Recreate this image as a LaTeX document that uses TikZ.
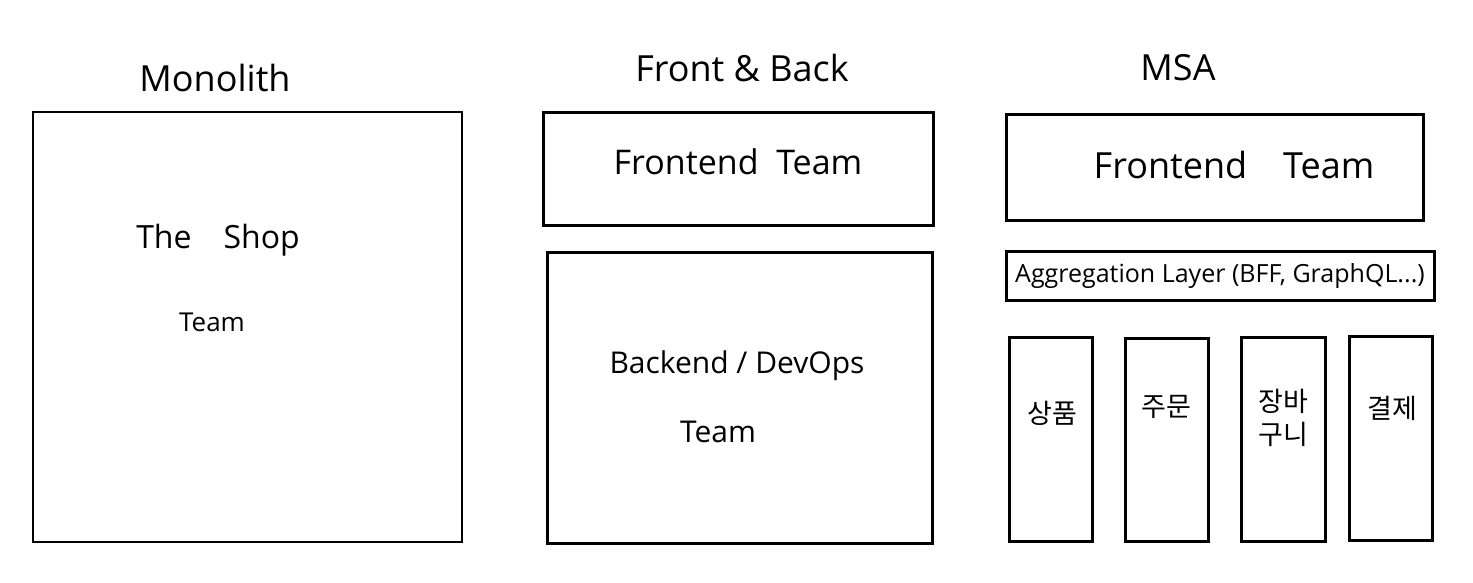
\documentclass[tikz,border=0pt]{standalone}
\usepackage{fontspec}
\setmainfont{Open Sans}
\newfontfamily\krfont{Noto Sans CJK KR}
\begin{document}
\begin{tikzpicture}[x=1pt,y=-1pt,
  box/.style={draw=black,line width=3pt},
  ttl/.style={font=\fontsize{36}{40}\selectfont},
  lbl/.style={font=\fontsize{30}{34}\selectfont},
  kr/.style={font=\krfont\fontsize{27}{33}\selectfont,align=center}]
\useasboundingbox (0,0) rectangle (1473,583);
% titles
\node[ttl] (t1) at (215,78) {Monolith};
\node[ttl] (t2) at (742,68) {Front \& Back};
\node[ttl] (t3) at (1178,68) {MSA};
% Monolith
\draw[box,line width=2.4pt] (33,112) rectangle (462,542);
\node[lbl,font=\fontsize{32}{36}\selectfont] (shop) at (218,240) {The\quad Shop};
\node[lbl,font=\fontsize{26}{30}\selectfont] (shopteam) at (212,322) {Team};
% Front & Back
\draw[box] (543,113) rectangle (933,225);
\node[lbl,font=\fontsize{34}{38}\selectfont] (fe1) at (738,162) {Frontend\ \ Team};
\draw[box] (547,252) rectangle (932,543);
\node[lbl] (be) at (737,366) {Backend / DevOps};
\node[lbl] (beteam) at (718,432) {Team};
% MSA
\draw[box] (1006,115) rectangle (1423,220);
\node[lbl,font=\fontsize{36}{40}\selectfont] (fe2) at (1234,165) {Frontend\quad Team};
\draw[box] (1006,251) rectangle (1434,300);
\node[font=\fontsize{25}{28}\selectfont] (agg) at (1220,276) {Aggregation Layer (BFF, GraphQL...)};
\draw[box] (1009,337) rectangle (1092,541);
\draw[box] (1125,338) rectangle (1208,541);
\draw[box] (1241,337) rectangle (1325,541);
\draw[box] (1349,336) rectangle (1432,540);
\node[kr] (s1) at (1052,413) {상품};
\node[kr] (s2) at (1166,407) {주문};
\node[kr] (s3) at (1283,418) {장바\\구니};
\node[kr] (s4) at (1392,408) {결제};
\end{tikzpicture}
\end{document}
